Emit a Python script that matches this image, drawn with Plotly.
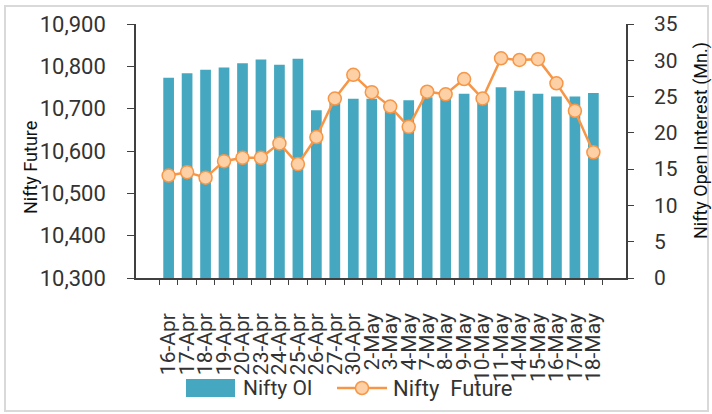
import plotly.graph_objects as go

dates = ["16-Apr", "17-Apr", "18-Apr", "19-Apr", "20-Apr", "23-Apr", "24-Apr", "25-Apr",
         "26-Apr", "27-Apr", "30-Apr", "2-May", "3-May", "4-May", "7-May", "8-May",
         "9-May", "10-May", "11-May", "14-May", "15-May", "16-May", "17-May", "18-May"]
nifty_oi = [27.6, 28.2, 28.7, 29.0, 29.6, 30.1, 29.4, 30.2,
            23.1, 24.8, 24.7, 24.7, 24.1, 24.5, 24.9, 24.7,
            25.4, 24.7, 26.3, 25.8, 25.4, 25.0, 25.0, 25.5]
nifty_future = [10542, 10550, 10537, 10576, 10584, 10584, 10618, 10569,
                10633, 10724, 10780, 10739, 10705, 10657, 10740, 10734,
                10770, 10724, 10819, 10815, 10817, 10760, 10695, 10597]

FONT = "Roboto"
AX = "#404040"
TXT = "#333333"
BAR_C = "#45a8c0"
LINE_C = "#f79646"
MARK_C = "#fdd0a6"

L, R, T, B = 136, 86, 24, 136
PW, PH = 712 - L - R, 414 - T - B


def px(x):
    return (x - L) / PW


def py(y):
    return (T + PH - y) / PH


fig = go.Figure()
fig.add_trace(go.Bar(
    x=dates, y=nifty_oi, name="Nifty OI", yaxis="y",
    marker=dict(color=BAR_C, line=dict(width=0)),
))
fig.add_trace(go.Scatter(
    x=dates, y=nifty_future, name="Nifty  Future", yaxis="y2",
    mode="lines+markers",
    line=dict(color=LINE_C, width=2.5),
    marker=dict(size=13, color=MARK_C, line=dict(color=LINE_C, width=1.5)),
))

# legend drawn as decoration (wide swatch like the reference)
leg_y = 388
shapes = [
    dict(type="rect", xref="paper", yref="paper",
         x0=px(5), x1=px(708), y0=py(411), y1=py(6),
         line=dict(color="#d9d9d9", width=2), layer="below"),
    dict(type="rect", xref="paper", yref="paper",
         x0=px(186), x1=px(235), y0=py(397), y1=py(379),
         fillcolor=BAR_C, line=dict(width=0)),
    dict(type="line", xref="paper", yref="paper",
         x0=px(337), x1=px(387), y0=py(leg_y), y1=py(leg_y),
         line=dict(color=LINE_C, width=2.5)),
    dict(type="circle", xref="paper", yref="paper",
         x0=px(355.5), x1=px(368.5), y0=py(leg_y + 6.5), y1=py(leg_y - 6.5),
         fillcolor=MARK_C, line=dict(color=LINE_C, width=1.5)),
]

fig.update_layout(
    width=712, height=414,
    margin=dict(l=L, r=R, t=T, b=B, autoexpand=False),
    paper_bgcolor="white", plot_bgcolor="white",
    font=dict(family=FONT, color=TXT),
    bargap=0.42,
    showlegend=False,
    xaxis=dict(
        type="category", tickangle=-90, dtick=1,
        tickfont=dict(size=21, color=TXT),
        showline=True, linecolor=AX, linewidth=1.5,
        ticks="outside", ticklen=5, tickcolor=AX, tickson="boundaries",
        ticklabelstandoff=25,
        showgrid=False, automargin=False,
    ),
    yaxis=dict(
        side="right", range=[0, 35], dtick=5,
        showline=True, linecolor=AX, linewidth=1.5,
        ticks="outside", ticklen=6, tickcolor=AX,
        ticklabelstandoff=16,
        showgrid=False, zeroline=False, automargin=False,
        tickfont=dict(size=21, color=TXT),
    ),
    yaxis2=dict(
        overlaying="y", side="left", range=[10300, 10900], dtick=100,
        tickformat=",d",
        showline=True, linecolor=AX, linewidth=1.5,
        ticks="outside", ticklen=7, tickcolor=AX,
        ticklabelstandoff=17,
        showgrid=False, zeroline=False, automargin=False,
        tickfont=dict(size=22, color=TXT),
    ),
    annotations=[
        dict(text="Nifty Future", textangle=-90, xref="paper", yref="paper",
             x=px(30), y=py(168), xanchor="center", yanchor="middle",
             showarrow=False, font=dict(size=18, color="#111111")),
        dict(text="Nifty Open Interest (Mn.)", textangle=-90, xref="paper", yref="paper",
             x=px(701), y=py(141), xanchor="center", yanchor="middle",
             showarrow=False, font=dict(size=18, color="#111111")),
        dict(text="Nifty OI", xref="paper", yref="paper",
             x=px(241), y=py(leg_y), xanchor="left", yanchor="middle",
             showarrow=False, font=dict(size=21, color=TXT)),
        dict(text="Nifty  Future", xref="paper", yref="paper",
             x=px(391), y=py(leg_y), xanchor="left", yanchor="middle",
             showarrow=False, font=dict(size=22, color=TXT)),
    ],
    shapes=shapes,
)

fig.write_html("out.html", config={"displayModeBar": False},
               post_script="document.body.style.margin='0px';")
